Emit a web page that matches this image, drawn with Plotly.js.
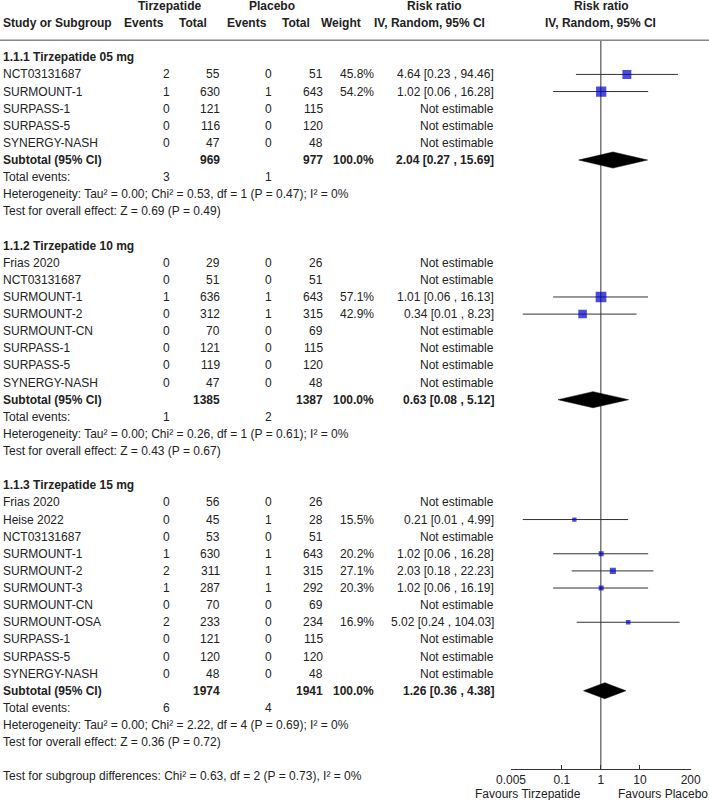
<!DOCTYPE html>
<html><head><meta charset="utf-8">
<script src="https://cdn.plot.ly/plotly-3.0.1.min.js"></script>
<style>html,body{margin:0;padding:0;background:#fff}#chart{width:709px;height:800px}</style>
</head><body><div id="chart"></div>
<script>
// ---------------- DATA ----------------
const groupTitles = ['1.1.1 Tirzepatide 05 mg', '1.1.2 Tirzepatide 10 mg', '1.1.3 Tirzepatide 15 mg'];

const g1Studies = ['NCT03131687', 'SURMOUNT-1', 'SURPASS-1', 'SURPASS-5', 'SYNERGY-NASH'];
const g1TEvents = [2, 1, 0, 0, 0];
const g1TTotal  = [55, 630, 121, 116, 47];
const g1PEvents = [0, 1, 0, 0, 0];
const g1PTotal  = [51, 643, 115, 120, 48];
const g1Weight  = [45.8, 54.2, null, null, null];
const g1RR      = [4.64, 1.02, null, null, null];
const g1Lo      = [0.23, 0.06, null, null, null];
const g1Hi      = [94.46, 16.28, null, null, null];

const g2Studies = ['Frias 2020', 'NCT03131687', 'SURMOUNT-1', 'SURMOUNT-2', 'SURMOUNT-CN', 'SURPASS-1', 'SURPASS-5', 'SYNERGY-NASH'];
const g2TEvents = [0, 0, 1, 0, 0, 0, 0, 0];
const g2TTotal  = [29, 51, 636, 312, 70, 121, 119, 47];
const g2PEvents = [0, 0, 1, 1, 0, 0, 0, 0];
const g2PTotal  = [26, 51, 643, 315, 69, 115, 120, 48];
const g2Weight  = [null, null, 57.1, 42.9, null, null, null, null];
const g2RR      = [null, null, 1.01, 0.34, null, null, null, null];
const g2Lo      = [null, null, 0.06, 0.01, null, null, null, null];
const g2Hi      = [null, null, 16.13, 8.23, null, null, null, null];

const g3Studies = ['Frias 2020', 'Heise 2022', 'NCT03131687', 'SURMOUNT-1', 'SURMOUNT-2', 'SURMOUNT-3', 'SURMOUNT-CN', 'SURMOUNT-OSA', 'SURPASS-1', 'SURPASS-5', 'SYNERGY-NASH'];
const g3TEvents = [0, 0, 0, 1, 2, 1, 0, 2, 0, 0, 0];
const g3TTotal  = [56, 45, 53, 630, 311, 287, 70, 233, 121, 120, 48];
const g3PEvents = [0, 1, 0, 1, 1, 1, 0, 0, 0, 0, 0];
const g3PTotal  = [26, 28, 51, 643, 315, 292, 69, 234, 115, 120, 48];
const g3Weight  = [null, 15.5, null, 20.2, 27.1, 20.3, null, 16.9, null, null, null];
const g3RR      = [null, 0.21, null, 1.02, 2.03, 1.02, null, 5.02, null, null, null];
const g3Lo      = [null, 0.01, null, 0.06, 0.18, 0.06, null, 0.24, null, null, null];
const g3Hi      = [null, 4.99, null, 16.28, 22.23, 16.19, null, 104.03, null, null, null];

const subTTotal  = [969, 1385, 1974];
const subPTotal  = [977, 1387, 1941];
const subRR      = [2.04, 0.63, 1.26];
const subLo      = [0.27, 0.08, 0.36];
const subHi      = [15.69, 5.12, 4.38];
const totTEvents = [3, 1, 6];
const totPEvents = [1, 2, 4];
const hetTau2    = ['0.00', '0.00', '0.00'];
const hetChi2    = ['0.53', '0.26', '2.22'];
const hetDf      = [1, 1, 4];
const hetP       = ['0.47', '0.61', '0.69'];
const hetI2      = ['0', '0', '0'];
const overallZ   = ['0.69', '0.43', '0.36'];
const overallP   = ['0.49', '0.67', '0.72'];
const subgroupTest = 'Test for subgroup differences: Chi² = 0.63, df = 2 (P = 0.73), I² = 0%';

const xTickVals = [0.005, 0.1, 1, 10, 200];
const xTickText = ['0.005', '0.1', '1', '10', '200'];
const favoursLeft = 'Favours Tirzepatide';
const favoursRight = 'Favours Placebo';

// ---------------- LAYOUT HELPERS ----------------
const W = 709, H = 800;
const FONT = 'Liberation Sans, Arial, sans-serif';
const TXT = '#222';
const groups = [
  {s: g1Studies, te: g1TEvents, tt: g1TTotal, pe: g1PEvents, pt: g1PTotal, w: g1Weight, rr: g1RR, lo: g1Lo, hi: g1Hi},
  {s: g2Studies, te: g2TEvents, tt: g2TTotal, pe: g2PEvents, pt: g2PTotal, w: g2Weight, rr: g2RR, lo: g2Lo, hi: g2Hi},
  {s: g3Studies, te: g3TEvents, tt: g3TTotal, pe: g3PEvents, pt: g3PTotal, w: g3Weight, rr: g3RR, lo: g3Lo, hi: g3Hi}
];

const col = {study: 2, tev: 166, ttot: 221, pev: 268, ptot: 324, w: 375, ci: 495};
const ann = [];
function txt(t, px, row, anchor, bold, extra) {
  const a = {
    text: bold ? '<b>' + t + '</b>' : t,
    x: px / W, xref: 'paper', y: row, yref: 'y',
    xanchor: anchor, yanchor: 'middle', showarrow: false,
    font: {family: FONT, size: 12, color: TXT}, borderpad: 0
  };
  if (extra) Object.assign(a, extra);
  ann.push(a);
}
function fmtCI(r, l, h) { return r.toFixed(2) + ' [' + l.toFixed(2) + ' , ' + h.toFixed(2) + ']'; }

// Header
txt('Tirzepatide', 169, -3, 'center', true);
txt('Placebo', 272, -3, 'center', true);
txt('Risk ratio', 434.5, -3, 'center', true);
txt('Risk ratio', 601, -3, 'center', true);
txt('Study or Subgroup', 2, -2, 'left', true);
txt('Events', 144, -2, 'center', true);
txt('Total', 208, -2, 'right', true);
txt('Events', 247, -2, 'center', true);
txt('Total', 311, -2, 'right', true);
txt('Weight', 362, -2, 'right', true);
txt('IV, Random, 95% CI', 429.5, -2, 'center', true);
txt('IV, Random, 95% CI', 600, -2, 'center', true);

// Body
const lineX = [], lineY = [];
const sqX = [], sqY = [], sqS = [];
const diamonds = [];
let r = 0;
groups.forEach((g, gi) => {
  txt(groupTitles[gi], col.study, r, 'left', true);
  r++;
  g.s.forEach((name, i) => {
    txt(name, col.study, r, 'left');
    txt(String(g.te[i]), col.tev, r, 'center');
    txt(String(g.tt[i]), col.ttot, r, 'right');
    txt(String(g.pe[i]), col.pev, r, 'center');
    txt(String(g.pt[i]), col.ptot, r, 'right');
    if (g.rr[i] !== null) {
      txt(g.w[i].toFixed(1) + '%', col.w, r, 'right');
      txt(fmtCI(g.rr[i], g.lo[i], g.hi[i]), col.ci, r, 'right');
      lineX.push(g.lo[i], g.hi[i], null);
      lineY.push(r, r, null);
      sqX.push(g.rr[i]); sqY.push(r); sqS.push(1.9 + 0.154 * g.w[i]);
    } else {
      txt('Not estimable', col.ci, r, 'right');
    }
    r++;
  });
  txt('Subtotal (95% CI)', col.study, r, 'left', true);
  txt(String(subTTotal[gi]), col.ttot, r, 'right', true);
  txt(String(subPTotal[gi]), col.ptot, r, 'right', true);
  txt('100.0%', col.w, r, 'right', true);
  txt(fmtCI(subRR[gi], subLo[gi], subHi[gi]), col.ci, r, 'right', true);
  diamonds.push({rr: subRR[gi], lo: subLo[gi], hi: subHi[gi], row: r});
  r++;
  txt('Total events:', col.study, r, 'left');
  txt(String(totTEvents[gi]), col.tev, r, 'center');
  txt(String(totPEvents[gi]), col.pev, r, 'center');
  r++;
  txt('Heterogeneity: Tau² = ' + hetTau2[gi] + '; Chi² = ' + hetChi2[gi] + ', df = ' + hetDf[gi] +
      ' (P = ' + hetP[gi] + '); I² = ' + hetI2[gi] + '%', col.study, r, 'left');
  r++;
  txt('Test for overall effect: Z = ' + overallZ[gi] + ' (P = ' + overallP[gi] + ')', col.study, r, 'left');
  r++;
  r++; // blank row
});
txt(subgroupTest, col.study, r, 'left');
const axisRow = r - 0.41;
txt(favoursLeft, 582, r + 1.05, 'right');
txt(favoursRight, 617, r + 1.05, 'left');

// ---------------- TRACES ----------------
const traces = [];
traces.push({
  type: 'scatter', mode: 'lines', x: lineX, y: lineY,
  line: {color: '#333', width: 1}, hoverinfo: 'skip', showlegend: false
});
diamonds.forEach(d => {
  const h = 0.47;
  traces.push({
    type: 'scatter', mode: 'lines', fill: 'toself', fillcolor: '#000',
    x: [d.lo, d.rr, d.hi, d.rr, d.lo], y: [d.row, d.row - h, d.row, d.row + h, d.row],
    line: {color: '#000', width: 0.5}, hoverinfo: 'skip', showlegend: false
  });
});
traces.push({
  type: 'scatter', mode: 'markers', x: sqX, y: sqY,
  marker: {symbol: 'square', size: sqS, color: '#0000CC', line: {color: '#0000CC', width: 0}},
  hoverinfo: 'skip', showlegend: false
});

// Pixel-to-row mapping: row0 at y=57.3px, 17.12 px per row
const ROW0 = 57.3, ROWH = 17.12;
const yTop = -ROW0 / ROWH, yBot = (H - ROW0) / ROWH;
const axisPx = ROW0 + axisRow * ROWH;

const layout = {
  width: W, height: H,
  margin: {l: 0, r: 0, t: 0, b: 0},
  paper_bgcolor: '#fff', plot_bgcolor: 'rgba(0,0,0,0)',
  showlegend: false,
  font: {family: FONT, size: 12, color: TXT},
  xaxis: {
    type: 'log', range: [Math.log10(0.005), Math.log10(200)],
    domain: [511 / W, 690.7 / W],
    anchor: 'free', position: 1 - axisPx / H,
    showline: true, linecolor: '#333', linewidth: 1,
    tickvals: xTickVals, ticktext: xTickText,
    ticks: 'inside', ticklen: 4, tickcolor: '#333', tickwidth: 1,
    ticklabelstandoff: -1,
    showgrid: false, zeroline: false,
    tickfont: {family: FONT, size: 12, color: TXT}, fixedrange: true
  },
  yaxis: {
    range: [yBot, yTop], domain: [0, 1], visible: false, showgrid: false,
    zeroline: false, fixedrange: true
  },
  shapes: [
    {type: 'line', xref: 'paper', x0: 0, x1: 1, yref: 'y', y0: -1, y1: -1,
     line: {color: '#888', width: 1.5}},
    {type: 'line', xref: 'x', x0: 1, x1: 1, yref: 'y', y0: -1, y1: axisRow,
     line: {color: '#333', width: 1}, layer: 'below'}
  ],
  annotations: ann
};

Plotly.newPlot('chart', traces, layout, {displayModeBar: false, staticPlot: true});
</script>
</body></html>
